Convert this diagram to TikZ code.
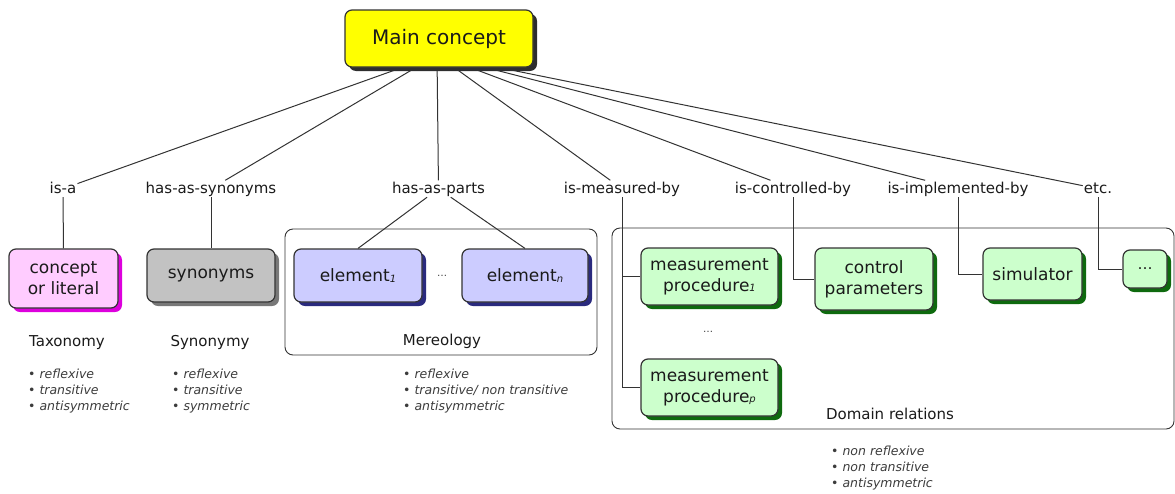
\documentclass[tikz,border=0pt]{standalone}
\usepackage{fontspec}
\setmainfont{DejaVu Sans}
\usetikzlibrary{shadows,calc}
\definecolor{linec}{HTML}{333333}
\definecolor{txt}{HTML}{1A1A1A}
\definecolor{listc}{HTML}{3C3C3C}
\definecolor{yellowf}{HTML}{FFFF00}
\definecolor{mainsh}{HTML}{2E2E2E}
\definecolor{pinkf}{HTML}{FFCCFF}
\definecolor{pinks}{HTML}{DD00DD}
\definecolor{grayf}{HTML}{C2C2C2}
\definecolor{grays}{HTML}{787878}
\definecolor{bluef}{HTML}{CCCCFF}
\definecolor{blues}{HTML}{2A2A7E}
\definecolor{greenf}{HTML}{CCFFCC}
\definecolor{greens}{HTML}{0E6A0E}
\newcommand\subidx[1]{{\itshape\fontsize{10}{10}\selectfont\raisebox{-0.5pt}{#1}}}
\begin{document}
\begin{tikzpicture}[x=1pt,y=-1pt,
  cbox/.style={draw=linec, line width=1.2pt, rounded corners=7pt, align=center,
    inner sep=0pt, text=txt, font=\fontsize{17}{21}\selectfont},
  shad/.style={drop shadow={shadow xshift=4pt, shadow yshift=-4pt, fill=#1, opacity=1}},
  lbl/.style={font=\fontsize{15}{18}\selectfont, inner sep=1pt, text height=11.5pt,
    text depth=3pt, text=txt, anchor=base},
  title/.style={font=\fontsize{15}{18}\selectfont, inner sep=0pt, text=txt, anchor=base},
  blist/.style={font=\fontsize{12.5}{16}\selectfont, inner sep=0pt, align=left,
    text=listc, anchor=north west},
  group/.style={draw=linec, line width=0.9pt, rounded corners=8pt, inner sep=0pt},
  conn/.style={draw=linec, line width=1pt},
  ell/.style={font=\fontsize{10}{10}\selectfont, text=listc, inner sep=0pt}
]
\useasboundingbox (0,0) rectangle (1175,493);

% relation labels
\node[lbl] (isa)   at (63,193)    {is-a};
\node[lbl] (syn)   at (211,193)   {has-as-synonyms};
\node[lbl] (parts) at (438.5,193) {has-as-parts};
\node[lbl] (meas)  at (622,193)   {is-measured-by};
\node[lbl] (ctrl)  at (793,193)   {is-controlled-by};
\node[lbl] (impl)  at (958,193)   {is-implemented-by};
\node[lbl] (etc)   at (1098,193)  {etc.};

% group boxes
\node[group, minimum width=312pt, minimum height=126pt] (mer) at (441,292) {};
\node[group, minimum width=562pt, minimum height=201pt] (dom) at (893,328.5) {};
\node[title] (mert) at (442,345) {Mereology};
\node[title] (domt) at (890,419) {Domain relations};

% concept boxes
\node[cbox, fill=pinkf, shad=pinks, minimum width=109pt, minimum height=59pt] (concept) at (63.5,278.5) {concept\\or literal};
\node[cbox, fill=grayf, shad=grays, minimum width=128pt, minimum height=53pt] (synb) at (211,275.5) {synonyms};
\node[cbox, fill=bluef, shad=blues, minimum width=128pt, minimum height=53pt] (e1) at (358,275.5) {element\subidx{1}};
\node[cbox, fill=bluef, shad=blues, minimum width=126pt, minimum height=53pt] (en) at (525,275.5) {element\subidx{n}};
\node[ell] (edots) at (442,276) {…};
\node[cbox, fill=greenf, shad=greens, minimum width=137pt, minimum height=57pt] (m1) at (709.5,276.5) {measurement\\procedure\subidx{1}};
\node[ell] (mdots) at (708,332) {…};
\node[cbox, fill=greenf, shad=greens, minimum width=137pt, minimum height=57pt] (mp) at (709.5,387.5) {measurement\\procedure\subidx{p}};
\node[cbox, fill=greenf, shad=greens, minimum width=118pt, minimum height=62pt] (cp) at (874,279) {control\\parameters};
\node[cbox, fill=greenf, shad=greens, minimum width=99pt, minimum height=52pt] (sim) at (1032.5,274) {simulator};
\node[cbox, fill=greenf, shad=greens, minimum width=44pt, minimum height=38pt, font=\fontsize{15}{18}\selectfont] (more) at (1145,269) {…};

% titles and property lists
\node[title] (tax) at (67,346) {Taxonomy};
\node[title] (syt) at (210,346) {Synonymy};
\node[blist] (taxl) at (28,368.5) {• \textit{reflexive}\\• \textit{transitive}\\• \textit{antisymmetric}};
\node[blist] (synl) at (172,368.5) {• \textit{reflexive}\\• \textit{transitive}\\• \textit{symmetric}};
\node[blist] (merl) at (403,368.5) {• \textit{reflexive}\\• \textit{transitive/ non transitive}\\• \textit{antisymmetric}};
\node[blist] (doml) at (831,445.5) {• \textit{non reflexive}\\• \textit{non transitive}\\• \textit{antisymmetric}};

% connectors from the main concept
\coordinate (hub) at (437,55);
\foreach \n in {isa,syn,parts,meas,ctrl,impl,etc} \draw[conn] (hub) -- (\n);

% connectors to targets
\draw[conn] (isa.south) -- (concept.north);
\draw[conn] (syn.south) -- (synb.north);
\draw[conn] (parts) -- (e1.north);
\draw[conn] (parts) -- (en.north);
\draw[conn] (meas.south) |- (m1.west);
\draw[conn] (meas.south) |- (mp.west);
\draw[conn] (ctrl.south) |- (cp.west);
\draw[conn] (impl.south) |- (sim.west);
\draw[conn] (etc.south) |- (more.west);

% main concept
\node[cbox, fill=yellowf, shad=mainsh, minimum width=188pt, minimum height=57pt, font=\fontsize{20}{24}\selectfont] (main) at (439,38.5) {Main concept};
\end{tikzpicture}
\end{document}
